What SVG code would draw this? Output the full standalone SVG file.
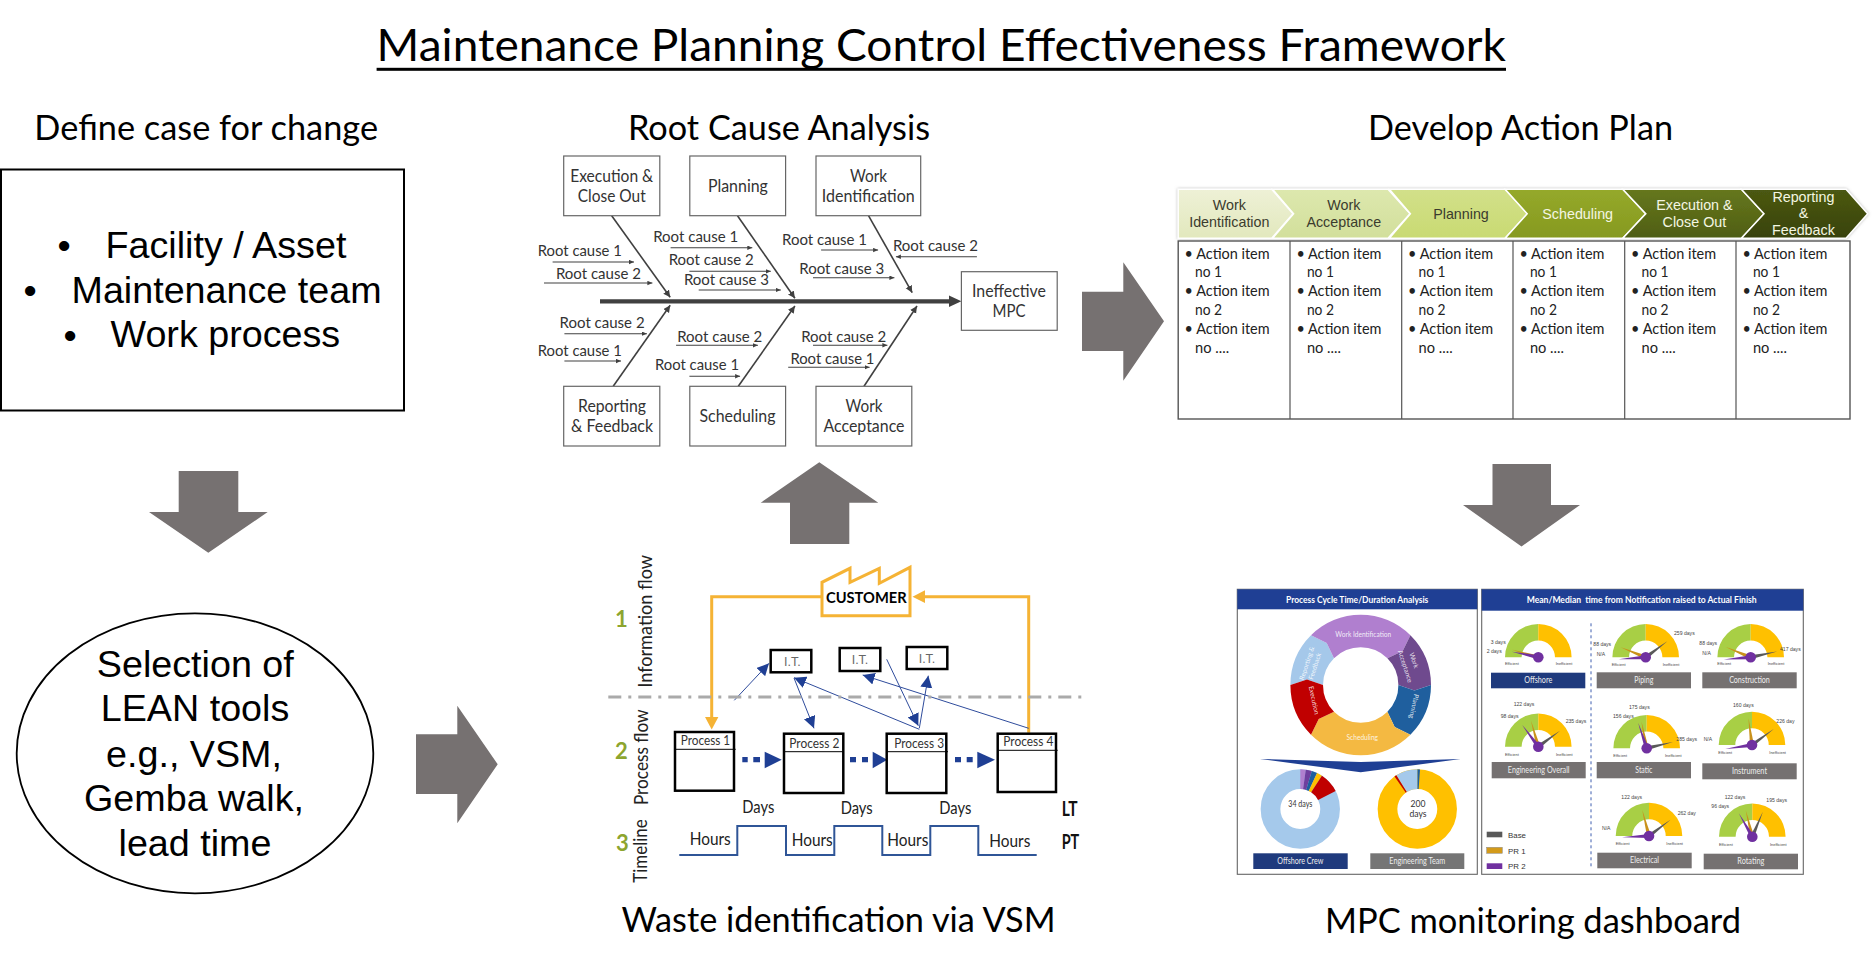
<svg xmlns="http://www.w3.org/2000/svg" width="1875" height="967" viewBox="0 0 1875 967">
<style>
text{font-family:"Lato","Liberation Sans",sans-serif;fill:#111}
.m{text-anchor:middle}
.ar{font-family:"Liberation Sans",Arial,sans-serif}
.big{font-size:37.7px;fill:#000}
.h{font-size:35px;fill:#000}
.b{fill:#fff;stroke:#666;stroke-width:1.2}
.bl{font-size:17.5px;fill:#333}
.rc{font-size:15px;fill:#333}
.bone{stroke:#404040;stroke-width:1.6;fill:none;marker-end:url(#ah)}
.tw{stroke:#404040;stroke-width:1.1;fill:none;marker-end:url(#as)}
.arrow{fill:#767171}
.step{font-family:"Liberation Sans",Arial,sans-serif;font-size:14.3px;text-anchor:middle}
.act{font-size:15px;fill:#222}
.bx{fill:#fff;stroke:#000;stroke-width:2.5}
.pt{font-size:13.5px;fill:#333}
.it{font-family:"Liberation Sans",Arial,sans-serif;font-size:12.5px;fill:#666;text-anchor:middle}
.blue{stroke:#2f4c9c;stroke-width:1;fill:none;marker-end:url(#ab)}
.or{stroke:#f5b335;stroke-width:3;fill:none}
.orf{fill:#f5b335}
.sq{stroke:#1f3f94;stroke-width:5.3;fill:none}
.bf{fill:#1f3f94}
.tm{font-size:18px;fill:#222}
.rot{font-size:19px;fill:#222}
.num{font-size:22px;font-weight:700;fill:#8da52f}
.bd{font-size:20px;font-weight:700;fill:#111}
.pan{fill:#fff;stroke:#666;stroke-width:1.1}
.ht{font-size:9.5px;font-weight:700;fill:#fff}
.w{font-size:6.6px;fill:#fff;text-anchor:middle;fill-opacity:.85}
.s{font-family:"Liberation Sans",Arial,sans-serif;font-size:5.1px;fill:#444}
.e{font-family:"Liberation Sans",Arial,sans-serif;font-size:3.9px;fill:#444}
.ban{font-size:8.6px;fill:#eee;text-anchor:middle}
.ring{fill:none;stroke-width:19.7}
.leg{font-family:"Liberation Sans",Arial,sans-serif;font-size:7.9px;fill:#333}
</style>
<defs>
<marker id="ah" markerUnits="userSpaceOnUse" markerWidth="8" markerHeight="8" refX="7" refY="3.5" orient="auto"><path d="M0 0L7 3.5L0 7Z" fill="#404040"/></marker>
<marker id="as" markerUnits="userSpaceOnUse" markerWidth="6" markerHeight="6" refX="5" refY="2.2" orient="auto"><path d="M0 0L5 2.2L0 4.4Z" fill="#404040"/></marker>
<marker id="ab" markerUnits="userSpaceOnUse" markerWidth="13" markerHeight="13" refX="12" refY="6" orient="auto"><path d="M0 0L12 6L0 12Z" fill="#1f3f94"/></marker>
<linearGradient id="g1" x1="0" y1="0" x2="0" y2="1"><stop offset="0" stop-color="#eef1d6"/><stop offset="1" stop-color="#e2e8bd"/></linearGradient>
<linearGradient id="g2" x1="0" y1="0" x2="0" y2="1"><stop offset="0" stop-color="#dde8ae"/><stop offset="1" stop-color="#d2df9b"/></linearGradient>
<linearGradient id="g3" x1="0" y1="0" x2="0" y2="1"><stop offset="0" stop-color="#d2e08a"/><stop offset="1" stop-color="#c9da72"/></linearGradient>
<linearGradient id="g4" x1="0" y1="0" x2="0" y2="1"><stop offset="0" stop-color="#95a92b"/><stop offset="1" stop-color="#86991f"/></linearGradient>
<linearGradient id="g5" x1="0" y1="0" x2="0" y2="1"><stop offset="0" stop-color="#66771d"/><stop offset="1" stop-color="#4f5e14"/></linearGradient>
<linearGradient id="g6" x1="0" y1="0" x2="0" y2="1"><stop offset="0" stop-color="#4c5912"/><stop offset="1" stop-color="#38420b"/></linearGradient>
<filter id="sh" x="-5%" y="-20%" width="110%" height="140%"><feDropShadow dx="0" dy="0" stdDeviation="1.5" flood-color="#888" flood-opacity=".6"/></filter>
<g id="gauge">
<path d="M-33.3 0A33.3 33.3 0 0 1 0 -33.3L0 -16.7A16.7 16.7 0 0 0 -16.7 0Z" fill="#a8cf45"/>
<path d="M33.3 0A33.3 33.3 0 0 0 0 -33.3L0 -16.7A16.7 16.7 0 0 1 16.7 0Z" fill="#ffc000"/>
</g>
<polygon id="n" points="0,-2 27,0 0,2"/>
</defs>
<rect width="1875" height="967" fill="#fff"/>

<g id="title">
<text x="941.3" y="61" class="m" font-size="45" style="fill:#000" textLength="1129.4" lengthAdjust="spacingAndGlyphs">Maintenance Planning Control Effectiveness Framework</text>
<rect x="376.6" y="67.8" width="1129.4" height="3" fill="#000"/>
</g>

<g id="headings">
<text x="206.2" y="140" class="m h" textLength="343.7" lengthAdjust="spacingAndGlyphs">Define case for change</text>
<text x="779" y="140" class="m h" textLength="302" lengthAdjust="spacingAndGlyphs">Root Cause Analysis</text>
<text x="1520.5" y="140" class="m h" textLength="305" lengthAdjust="spacingAndGlyphs">Develop Action Plan</text>
<text x="838.5" y="931.7" class="m h" textLength="434" lengthAdjust="spacingAndGlyphs">Waste identification via VSM</text>
<text x="1533" y="932.7" class="m h" textLength="416" lengthAdjust="spacingAndGlyphs">MPC monitoring dashboard</text>
</g>

<g id="case-for-change">
<rect x="1" y="169.5" width="403" height="241" fill="#fff" stroke="#000" stroke-width="2"/>
<text x="57.5" y="258" class="ar big">•</text><text x="105.5" y="257.7" class="ar big">Facility / Asset</text>
<text x="23.5" y="303" class="ar big">•</text><text x="71.5" y="302.7" class="ar big">Maintenance team</text>
<text x="63.5" y="348" class="ar big">•</text><text x="110.5" y="347.3" class="ar big">Work process</text>
</g>

<g id="lean-tools">
<ellipse cx="195" cy="753.3" rx="178.3" ry="140" fill="#fff" stroke="#000" stroke-width="1.8"/>
<text x="195.3" y="676.7" class="ar big m">Selection of</text>
<text x="195" y="721" class="ar big m">LEAN tools</text>
<text x="194" y="766.7" class="ar big m">e.g., VSM,</text>
<text x="194" y="810.7" class="ar big m">Gemba walk,</text>
<text x="195" y="855.7" class="ar big m">lead time</text>
</g>

<g id="connectors">
<polygon class="arrow" points="178.7,471 238.3,471 238.3,512 267.7,512 208.3,552.7 149,512 178.7,512"/>
<polygon class="arrow" points="416,734.3 457.3,734.3 457.3,705.7 497.7,764.3 457.3,823.3 457.3,794 416,794"/>
<polygon class="arrow" points="790,544 790,502.7 760.7,502.7 819.3,462.3 878.3,502.7 849.3,502.7 849.3,544"/>
<polygon class="arrow" points="1082,291.7 1123.3,291.7 1123.3,262.3 1164,321.3 1123.3,380.7 1123.3,351 1082,351"/>
<polygon class="arrow" points="1492.5,464 1551,464 1551,505 1580,505 1521.5,546.5 1463,505 1492.5,505"/>

<path d="M600 301.3H950" stroke="#404040" stroke-width="4.2" fill="none"/>
<polygon points="949,295.5 961.4,301.3 949,307" fill="#404040"/>
<line class="bone" x1="611.7" y1="215.7" x2="670.2" y2="297.3"/>
<line class="bone" x1="737.5" y1="215.7" x2="794.9" y2="298.3"/>
<line class="bone" x1="868.5" y1="215.7" x2="912.2" y2="292.7"/>
<line class="bone" x1="613.2" y1="386.3" x2="670.2" y2="305.3"/>
<line class="bone" x1="738.3" y1="386.3" x2="794.9" y2="306"/>
<line class="bone" x1="864" y1="386.3" x2="917" y2="306"/>
<line class="tw" x1="552.6" y1="262" x2="634" y2="262"/>
<line class="tw" x1="544" y1="283" x2="652.4" y2="283"/>
<line class="tw" x1="670.6" y1="247.7" x2="752.3" y2="247.7"/>
<line class="tw" x1="689.4" y1="271.3" x2="770.8" y2="271.3"/>
<line class="tw" x1="698.7" y1="290" x2="780.8" y2="290"/>
<line class="tw" x1="821.1" y1="250" x2="878.1" y2="250"/>
<line class="tw" x1="813" y1="277.7" x2="894.4" y2="277.7"/>
<line class="tw" x1="976.9" y1="256.7" x2="895.9" y2="256.7"/>
<line class="tw" x1="564.4" y1="333.7" x2="646.9" y2="333.7"/>
<line class="tw" x1="564.4" y1="361" x2="621" y2="361"/>
<line class="tw" x1="676.1" y1="345.3" x2="757.9" y2="345.3"/>
<line class="tw" x1="689.4" y1="376.3" x2="740.1" y2="376.3"/>
<line class="tw" x1="813" y1="345.3" x2="887.4" y2="345.3"/>
<line class="tw" x1="788.2" y1="367.3" x2="869.6" y2="367.3"/>

<path class="or" d="M822 596.7H711.7V720"/>
<polygon class="orf" points="705,717 718.4,717 711.7,729.5"/>
<path class="or" d="M1028.7 732.7V596.7H925"/>
<polygon class="orf" points="925,590.3 925,603.1 912.5,596.7"/>
<line class="blue" x1="734.3" y1="700.3" x2="769" y2="663.3"/>
<line class="blue" x1="919.3" y1="729.3" x2="794" y2="677.7"/>
<line class="blue" x1="794" y1="678" x2="814" y2="728.3"/>
<line class="blue" x1="886.7" y1="659.3" x2="918.3" y2="725.7"/>
<line class="blue" x1="919.3" y1="728.3" x2="928.3" y2="675.7"/>
<line class="blue" x1="1028.7" y1="728.3" x2="862.7" y2="675"/>
<path class="sq" d="M742.3 759.7h5.4M753.3 759.7h6.7"/>
<polygon class="bf" points="764.7,751.7 781.7,759.7 764.7,768.3"/>
<path class="sq" d="M850 759.7h6M862 759.7h6"/>
<polygon class="bf" points="872.7,751.7 887.3,759.7 872.7,768.3"/>
<path class="sq" d="M955 759.7h6M966.7 759.7h6"/>
<polygon class="bf" points="977.3,751.7 995,759.7 977.3,768.3"/>
</g>

<g id="fishbone">
<g id="rca-execution"><rect class="b" x="563.7" y="156" width="96.1" height="59.7"/><text x="611.7" y="181.7" class="m bl" textLength="83" lengthAdjust="spacingAndGlyphs">Execution &amp;</text><text x="611.7" y="202.3" class="m bl" textLength="68" lengthAdjust="spacingAndGlyphs">Close Out</text></g>
<g id="rca-planning"><rect class="b" x="689.8" y="156" width="95.8" height="59.7"/><text x="737.9" y="192.3" class="m bl" textLength="60" lengthAdjust="spacingAndGlyphs">Planning</text></g>
<g id="rca-work-id"><rect class="b" x="816" y="156" width="104.7" height="59.7"/><text x="868.5" y="181.7" class="m bl" textLength="37" lengthAdjust="spacingAndGlyphs">Work</text><text x="868.2" y="202.3" class="m bl" textLength="93" lengthAdjust="spacingAndGlyphs">Identification</text></g>
<g id="rca-reporting"><rect class="b" x="563.7" y="386.3" width="96.1" height="59.7"/><text x="612" y="412" class="m bl" textLength="68" lengthAdjust="spacingAndGlyphs">Reporting</text><text x="612" y="432.3" class="m bl" textLength="82" lengthAdjust="spacingAndGlyphs">&amp; Feedback</text></g>
<g id="rca-scheduling"><rect class="b" x="689.8" y="386.3" width="95.8" height="59.7"/><text x="737.5" y="422.3" class="m bl" textLength="76" lengthAdjust="spacingAndGlyphs">Scheduling</text></g>
<g id="rca-work-acc"><rect class="b" x="816" y="386.3" width="95.8" height="59.7"/><text x="864" y="412" class="m bl" textLength="37" lengthAdjust="spacingAndGlyphs">Work</text><text x="864" y="432.3" class="m bl" textLength="81" lengthAdjust="spacingAndGlyphs">Acceptance</text></g>
<g id="rca-effect"><rect class="b" x="961.4" y="271.7" width="95.8" height="58.6"/><text x="1009" y="296.7" class="m bl" textLength="74" lengthAdjust="spacingAndGlyphs">Ineffective</text><text x="1009" y="317.3" class="m bl" textLength="33" lengthAdjust="spacingAndGlyphs">MPC</text></g>
<g id="rca-causes">
<text x="537.8" y="256" class="rc" textLength="84" lengthAdjust="spacingAndGlyphs">Root cause 1</text>
<text x="555.9" y="278.7" class="rc" textLength="85" lengthAdjust="spacingAndGlyphs">Root cause 2</text>
<text x="653.2" y="242.3" class="rc" textLength="85" lengthAdjust="spacingAndGlyphs">Root cause 1</text>
<text x="668.7" y="265.3" class="rc" textLength="85" lengthAdjust="spacingAndGlyphs">Root cause 2</text>
<text x="683.9" y="285" class="rc" textLength="85" lengthAdjust="spacingAndGlyphs">Root cause 3</text>
<text x="782" y="245" class="rc" textLength="85" lengthAdjust="spacingAndGlyphs">Root cause 1</text>
<text x="799.3" y="274.3" class="rc" textLength="85" lengthAdjust="spacingAndGlyphs">Root cause 3</text>
<text x="892.9" y="251" class="rc" textLength="85" lengthAdjust="spacingAndGlyphs">Root cause 2</text>
<text x="559.6" y="328" class="rc" textLength="85" lengthAdjust="spacingAndGlyphs">Root cause 2</text>
<text x="537.8" y="356" class="rc" textLength="84" lengthAdjust="spacingAndGlyphs">Root cause 1</text>
<text x="677.2" y="342" class="rc" textLength="85" lengthAdjust="spacingAndGlyphs">Root cause 2</text>
<text x="655" y="369.7" class="rc" textLength="84" lengthAdjust="spacingAndGlyphs">Root cause 1</text>
<text x="801.2" y="342" class="rc" textLength="85" lengthAdjust="spacingAndGlyphs">Root cause 2</text>
<text x="790.4" y="363.7" class="rc" textLength="84" lengthAdjust="spacingAndGlyphs">Root cause 1</text>
</g>
</g>

<g id="action-plan">
<g id="chevrons" filter="url(#sh)" stroke="#fff" stroke-width="1.5">
<path id="chev1" fill="url(#g1)" d="M1178.2 189.3H1271.7L1293 213.8L1271.7 238.3H1178.2Z"/>
<path id="chev2" fill="url(#g2)" d="M1272.6 189.3H1388L1410 213.8L1388 238.3H1272.6L1293.6 213.8Z"/>
<path id="chev3" fill="url(#g3)" d="M1389.4 189.3H1505L1527.5 213.8L1505 238.3H1389.4L1410.4 213.8Z"/>
<path id="chev4" fill="url(#g4)" d="M1505.2 189.3H1622.8L1645.6 213.8L1622.8 238.3H1505.2L1527.2 213.8Z"/>
<path id="chev5" fill="url(#g5)" d="M1622.8 189.3H1741.4L1764 213.8L1741.4 238.3H1622.8L1645.8 213.8Z"/>
<path id="chev6" fill="url(#g6)" d="M1741.4 189.3H1846L1867.7 213.8L1846 238.3H1741.4L1764 213.8Z"/>
</g>
<text class="step" style="fill:#3b3b2e" x="1229.3" y="210">Work</text><text class="step" style="fill:#3b3b2e" x="1229.3" y="227.3">Identification</text>
<text class="step" style="fill:#3b3b2e" x="1343.8" y="210">Work</text><text class="step" style="fill:#3b3b2e" x="1343.8" y="227.3">Acceptance</text>
<text class="step" style="fill:#3b3b2e" x="1461" y="219">Planning</text>
<text class="step" style="fill:#f4f6e2" x="1577.7" y="219">Scheduling</text>
<text class="step" style="fill:#f4f6e2" x="1694.4" y="210">Execution &amp;</text><text class="step" style="fill:#f4f6e2" x="1694.4" y="227.3">Close Out</text>
<text class="step" style="fill:#f4f6e2" x="1803.4" y="202.3">Reporting</text><text class="step" style="fill:#f4f6e2" x="1803.4" y="218.3">&amp;</text><text class="step" style="fill:#f4f6e2" x="1803.4" y="235">Feedback</text>
<g id="action-table">
<rect x="1178.2" y="241" width="671.8" height="178" fill="#fff" stroke="#555" stroke-width="1.4"/>
<path d="M1290 241V419M1401.7 241V419M1513 241V419M1624.7 241V419M1736 241V419" stroke="#555" stroke-width="1.2" fill="none"/>
<g>
<text class="act" x="1184.6" y="258.5" textLength="85" lengthAdjust="spacingAndGlyphs">• Action item</text><text class="act" x="1195.1" y="277.3" textLength="27" lengthAdjust="spacingAndGlyphs">no 1</text><text class="act" x="1184.6" y="296.3" textLength="85" lengthAdjust="spacingAndGlyphs">• Action item</text><text class="act" x="1195.1" y="315" textLength="27" lengthAdjust="spacingAndGlyphs">no 2</text><text class="act" x="1184.6" y="334" textLength="85" lengthAdjust="spacingAndGlyphs">• Action item</text><text class="act" x="1195.1" y="353" textLength="34" lengthAdjust="spacingAndGlyphs">no ....</text>
<text class="act" x="1296.4" y="258.5" textLength="85" lengthAdjust="spacingAndGlyphs">• Action item</text><text class="act" x="1306.9" y="277.3" textLength="27" lengthAdjust="spacingAndGlyphs">no 1</text><text class="act" x="1296.4" y="296.3" textLength="85" lengthAdjust="spacingAndGlyphs">• Action item</text><text class="act" x="1306.9" y="315" textLength="27" lengthAdjust="spacingAndGlyphs">no 2</text><text class="act" x="1296.4" y="334" textLength="85" lengthAdjust="spacingAndGlyphs">• Action item</text><text class="act" x="1306.9" y="353" textLength="34" lengthAdjust="spacingAndGlyphs">no ....</text>
<text class="act" x="1408.1" y="258.5" textLength="85" lengthAdjust="spacingAndGlyphs">• Action item</text><text class="act" x="1418.6" y="277.3" textLength="27" lengthAdjust="spacingAndGlyphs">no 1</text><text class="act" x="1408.1" y="296.3" textLength="85" lengthAdjust="spacingAndGlyphs">• Action item</text><text class="act" x="1418.6" y="315" textLength="27" lengthAdjust="spacingAndGlyphs">no 2</text><text class="act" x="1408.1" y="334" textLength="85" lengthAdjust="spacingAndGlyphs">• Action item</text><text class="act" x="1418.6" y="353" textLength="34" lengthAdjust="spacingAndGlyphs">no ....</text>
<text class="act" x="1519.4" y="258.5" textLength="85" lengthAdjust="spacingAndGlyphs">• Action item</text><text class="act" x="1529.9" y="277.3" textLength="27" lengthAdjust="spacingAndGlyphs">no 1</text><text class="act" x="1519.4" y="296.3" textLength="85" lengthAdjust="spacingAndGlyphs">• Action item</text><text class="act" x="1529.9" y="315" textLength="27" lengthAdjust="spacingAndGlyphs">no 2</text><text class="act" x="1519.4" y="334" textLength="85" lengthAdjust="spacingAndGlyphs">• Action item</text><text class="act" x="1529.9" y="353" textLength="34" lengthAdjust="spacingAndGlyphs">no ....</text>
<text class="act" x="1631.1" y="258.5" textLength="85" lengthAdjust="spacingAndGlyphs">• Action item</text><text class="act" x="1641.6" y="277.3" textLength="27" lengthAdjust="spacingAndGlyphs">no 1</text><text class="act" x="1631.1" y="296.3" textLength="85" lengthAdjust="spacingAndGlyphs">• Action item</text><text class="act" x="1641.6" y="315" textLength="27" lengthAdjust="spacingAndGlyphs">no 2</text><text class="act" x="1631.1" y="334" textLength="85" lengthAdjust="spacingAndGlyphs">• Action item</text><text class="act" x="1641.6" y="353" textLength="34" lengthAdjust="spacingAndGlyphs">no ....</text>
<text class="act" x="1742.4" y="258.5" textLength="85" lengthAdjust="spacingAndGlyphs">• Action item</text><text class="act" x="1752.9" y="277.3" textLength="27" lengthAdjust="spacingAndGlyphs">no 1</text><text class="act" x="1742.4" y="296.3" textLength="85" lengthAdjust="spacingAndGlyphs">• Action item</text><text class="act" x="1752.9" y="315" textLength="27" lengthAdjust="spacingAndGlyphs">no 2</text><text class="act" x="1742.4" y="334" textLength="85" lengthAdjust="spacingAndGlyphs">• Action item</text><text class="act" x="1752.9" y="353" textLength="34" lengthAdjust="spacingAndGlyphs">no ....</text>
</g>
</g>
</g>

<g id="vsm">
<line x1="608.3" y1="697" x2="1083.3" y2="697" stroke="#aaa" stroke-width="3" stroke-dasharray="13 7 3 7"/>
<text class="m rot" transform="rotate(-90 651.7 621.3)" x="651.7" y="621.3" textLength="132.7" lengthAdjust="spacingAndGlyphs">Information flow</text>
<text class="m rot" transform="rotate(-90 648.3 757.2)" x="648.3" y="757.2" textLength="95.7" lengthAdjust="spacingAndGlyphs">Process flow</text>
<text class="m rot" transform="rotate(-90 647.3 851)" x="647.3" y="851" textLength="63.3" lengthAdjust="spacingAndGlyphs">Timeline</text>
<text class="m num" x="621.3" y="627.3">1</text>
<text class="m num" x="621.3" y="759.3">2</text>
<text class="m num" x="622.3" y="850.7">3</text>
<g id="customer">
<polygon points="822,615.7 822,582.3 850,568.3 850,582.3 879.3,568.3 879.3,583.3 910,567.3 910,615.7" fill="#fff" stroke="#f5b335" stroke-width="3"/>
<text x="866.3" y="602.7" class="m" font-weight="700" font-size="16" style="fill:#000" textLength="80.7" lengthAdjust="spacingAndGlyphs">CUSTOMER</text>
</g>
<g id="it1"><rect class="bx" x="770.7" y="650" width="40.6" height="22.3"/><text class="it" x="792.3" y="666.3">I.T.</text></g>
<g id="it2"><rect class="bx" x="839.7" y="648" width="40.6" height="23"/><text class="it" x="860" y="664.3">I.T.</text></g>
<g id="it3"><rect class="bx" x="906.7" y="647" width="40.6" height="22"/><text class="it" x="927" y="663.3">I.T.</text></g>
<g id="process1"><rect class="bx" x="675" y="732" width="59" height="58.7"/><path d="M675 749.3H735.7" stroke="#000" stroke-width="1"/><text class="pt" x="680.7" y="745" textLength="49.5" lengthAdjust="spacingAndGlyphs">Process 1</text></g>
<g id="process2"><rect class="bx" x="784" y="733.7" width="59.3" height="59.3"/><path d="M784 751.7H843.3" stroke="#000" stroke-width="1"/><text class="pt" x="789.3" y="747.7" textLength="50" lengthAdjust="spacingAndGlyphs">Process 2</text></g>
<g id="process3"><rect class="bx" x="886.7" y="733.7" width="59.6" height="59.3"/><path d="M886.7 751.7H948" stroke="#000" stroke-width="1"/><text class="pt" x="894.3" y="747.7" textLength="49.7" lengthAdjust="spacingAndGlyphs">Process 3</text></g>
<g id="process4"><rect class="bx" x="997.7" y="733.7" width="58.3" height="58.3"/><path d="M997.7 750.3H1057.7" stroke="#000" stroke-width="1"/><text class="pt" x="1003.3" y="746" textLength="50" lengthAdjust="spacingAndGlyphs">Process 4</text></g>
<text class="tm" x="742.3" y="812.7" textLength="32" lengthAdjust="spacingAndGlyphs">Days</text>
<text class="tm" x="840.7" y="813.7" textLength="32" lengthAdjust="spacingAndGlyphs">Days</text>
<text class="tm" x="939.3" y="813.7" textLength="32" lengthAdjust="spacingAndGlyphs">Days</text>
<text class="bd" x="1061.7" y="815.7" textLength="16" lengthAdjust="spacingAndGlyphs">LT</text>
<text class="bd" x="1061.7" y="848.7" textLength="17.6" lengthAdjust="spacingAndGlyphs">PT</text>
<polyline id="timeline" points="679.3,855 737.3,855 737.3,826 786,826 786,855 834.3,855 834.3,826 882.3,826 882.3,855 930.3,855 930.3,826 978.3,826 978.3,855 1036.7,855" fill="none" stroke="#2f5597" stroke-width="2"/>
<text class="tm" x="689.7" y="844.7" textLength="41" lengthAdjust="spacingAndGlyphs">Hours</text>
<text class="tm" x="791.7" y="845.7" textLength="41" lengthAdjust="spacingAndGlyphs">Hours</text>
<text class="tm" x="887.3" y="845.7" textLength="41" lengthAdjust="spacingAndGlyphs">Hours</text>
<text class="tm" x="989.3" y="846.7" textLength="41" lengthAdjust="spacingAndGlyphs">Hours</text>
</g>

<g id="dashboard-cycle">
<rect class="pan" x="1237.3" y="589.3" width="240" height="285"/>
<rect x="1237.3" y="589.3" width="240" height="20" fill="#1f3f94"/>
<text class="ht m" x="1357.2" y="602.7" textLength="142.3" lengthAdjust="spacingAndGlyphs">Process Cycle Time/Duration Analysis</text>
<path fill="#a5c8ea" d="M1290.4 685A70.3 70.3 0 0 1 1311 635.3L1326.7 643L1334 658.3A37.7 37.7 0 0 0 1323 685L1307 679.4Z"/>
<path fill="#b07fcf" d="M1311 635.3A70.3 70.3 0 0 1 1410.4 635.3L1402.7 651L1387.4 658.3A37.7 37.7 0 0 0 1334 658.3L1326.7 643Z"/>
<path fill="#6f4a8e" d="M1410.4 635.3A70.3 70.3 0 0 1 1431 685L1414.4 690.6L1398.4 685A37.7 37.7 0 0 0 1387.4 658.3L1402.7 651Z"/>
<path fill="#1f5f9e" d="M1431 685A70.3 70.3 0 0 1 1410.4 734.7L1394.7 727L1387.4 711.7A37.7 37.7 0 0 0 1398.4 685L1414.4 690.6Z"/>
<path fill="#f4b942" d="M1410.4 734.7A70.3 70.3 0 0 1 1311 734.7L1318.7 719L1334 711.7A37.7 37.7 0 0 0 1387.4 711.7L1394.7 727Z"/>
<path fill="#c00000" d="M1311 734.7A70.3 70.3 0 0 1 1290.4 685L1307 679.4L1323 685A37.7 37.7 0 0 0 1334 711.7L1318.7 719Z"/>
<text class="w" x="1363.3" y="636.5">Work Identification</text>
<text class="w" x="1362.3" y="739.5">Scheduling</text>
<text class="w" transform="rotate(72 1411.7 661)" x="1411.7" y="661">Work</text>
<text class="w" transform="rotate(72 1403 667)" x="1403" y="667">Acceptance</text>
<text class="w" transform="rotate(102 1411.7 706)" x="1411.7" y="706">Planning</text>
<text class="w" transform="rotate(78 1311.7 700.7)" x="1311.7" y="700.7">Execution</text>
<text class="w" transform="rotate(-72 1309 664)" x="1309" y="664">Reporting &amp;</text>
<text class="w" transform="rotate(-72 1317 667)" x="1317" y="667">Feedback</text>
<polygon class="bf" points="1260,759 1360.7,762 1460.7,759 1360.7,772.3"/>
<g id="donut-offshore" transform="rotate(-90 1300.3 809)">
<circle class="ring" cx="1300.3" cy="809" r="29.8" stroke="#a5c9eb"/>
<circle class="ring" cx="1300.3" cy="809" r="29.8" stroke="#b07fcf" pathLength="360" stroke-dasharray="8 352"/>
<circle class="ring" cx="1300.3" cy="809" r="29.8" stroke="#6f3f9e" pathLength="360" stroke-dasharray="9 351" stroke-dashoffset="-8"/>
<circle class="ring" cx="1300.3" cy="809" r="29.8" stroke="#1f5f9e" pathLength="360" stroke-dasharray="8 352" stroke-dashoffset="-17"/>
<circle class="ring" cx="1300.3" cy="809" r="29.8" stroke="#ffc000" pathLength="360" stroke-dasharray="8 352" stroke-dashoffset="-25"/>
<circle class="ring" cx="1300.3" cy="809" r="29.8" stroke="#c00000" pathLength="360" stroke-dasharray="30 330" stroke-dashoffset="-33"/>
</g>
<g id="donut-engineering" transform="rotate(-90 1417.3 809)">
<circle class="ring" cx="1417.3" cy="809" r="29.8" stroke="#ffc000"/>
<circle class="ring" cx="1417.3" cy="809" r="29.8" stroke="#1f5f9e" pathLength="360" stroke-dasharray="4 356"/>
<circle class="ring" cx="1417.3" cy="809" r="29.8" stroke="#a5c9eb" pathLength="360" stroke-dasharray="32 328" stroke-dashoffset="-328"/>
<circle class="ring" cx="1417.3" cy="809" r="29.8" stroke="#c00000" pathLength="360" stroke-dasharray="3 357" stroke-dashoffset="-325"/>
</g>
<text class="m" x="1300.3" y="807.3" font-size="8.6" style="fill:#333" textLength="24" lengthAdjust="spacingAndGlyphs">34 days</text>
<text class="m" x="1418" y="807.3" font-size="8.6" style="fill:#333">200</text>
<text class="m" x="1418" y="817" font-size="8.6" style="fill:#333">days</text>
<rect x="1253.3" y="853.3" width="94.4" height="15.7" fill="#1f3a7d"/>
<text class="ban" x="1300.3" y="863.7" textLength="46" lengthAdjust="spacingAndGlyphs">Offshore Crew</text>
<rect x="1370.3" y="853.3" width="94" height="15.7" fill="#757575"/>
<text class="ban" x="1417.3" y="863.7" textLength="56" lengthAdjust="spacingAndGlyphs">Engineering Team</text>
</g>

<g id="dashboard-gauges">
<rect class="pan" x="1481.7" y="589.3" width="321.6" height="285"/>
<rect x="1481.7" y="589.3" width="321.6" height="21.4" fill="#1f3f94"/>
<text class="ht m" x="1641.7" y="603.3" xml:space="preserve" textLength="230" lengthAdjust="spacingAndGlyphs">Mean/Median  time from Notification raised to Actual Finish</text>
<line x1="1591" y1="623.3" x2="1591" y2="866.7" stroke="#3f5fb0" stroke-width="1" stroke-dasharray="3 3"/>

<g id="gauge-offshore">
<g transform="translate(1538.3 657.3)"><use href="#gauge"/><use href="#n" transform="rotate(196)" fill="#c9911a"/><use href="#n" transform="rotate(192)" fill="#7030a0"/><circle r="5.3" fill="#7030a0"/></g>
<text class="s" x="1490.7" y="644.3">3 days</text><text class="s" x="1486.7" y="653.3">2 days</text><text class="e" x="1505" y="665.3">Efficient</text><text class="e" x="1555.7" y="665.3">Inefficient</text>
<rect x="1491" y="672.7" width="94.3" height="15.6" fill="#1f3a7d"/><text class="ban" x="1538.2" y="683" textLength="28" lengthAdjust="spacingAndGlyphs">Offshore</text>
</g>
<g id="gauge-piping">
<g transform="translate(1645.7 657.3)"><use href="#gauge"/><use href="#n" transform="rotate(-36.8)" fill="#595959"/><use href="#n" transform="rotate(202)" fill="#c9911a"/><use href="#n" transform="rotate(176)" fill="#7030a0"/><circle r="5.3" fill="#7030a0"/></g>
<text class="s" x="1593.3" y="645.7">88 days</text><text class="s" x="1596.7" y="656">N/A</text><text class="s" x="1674" y="634.7">259 days</text><text class="e" x="1611.7" y="666">Efficient</text><text class="e" x="1662.7" y="666">Inefficient</text>
<rect x="1596.7" y="672.3" width="94.3" height="16" fill="#757171"/><text class="ban" x="1643.8" y="683" textLength="19" lengthAdjust="spacingAndGlyphs">Piping</text>
</g>
<g id="gauge-construction">
<g transform="translate(1750.7 657.3)"><use href="#gauge"/><use href="#n" transform="rotate(-12.4)" fill="#595959"/><use href="#n" transform="rotate(202.6)" fill="#c9911a"/><use href="#n" transform="rotate(175.5)" fill="#7030a0"/><circle r="5.3" fill="#7030a0"/></g>
<text class="s" x="1699.3" y="644.7">88 days</text><text class="s" x="1702.3" y="655.3">N/A</text><text class="s" x="1780" y="651">417 days</text><text class="e" x="1717.3" y="665.3">Efficient</text><text class="e" x="1767.7" y="665.3">Inefficient</text>
<rect x="1702.3" y="672.3" width="94.4" height="16" fill="#757171"/><text class="ban" x="1749.5" y="683" textLength="40.7" lengthAdjust="spacingAndGlyphs">Construction</text>
</g>
<g id="gauge-engineering">
<g transform="translate(1538.3 746.7)"><use href="#gauge"/><use href="#n" transform="rotate(-36.4)" fill="#595959"/><use href="#n" transform="rotate(254.4)" fill="#c9911a"/><use href="#n" transform="rotate(233.6)" fill="#7030a0"/><circle r="5.3" fill="#7030a0"/></g>
<text class="s" x="1513.7" y="706.3">122 days</text><text class="s" x="1500.7" y="718.3">98 days</text><text class="s" x="1565.7" y="723">235 days</text><text class="e" x="1505" y="755.7">Efficient</text><text class="e" x="1556" y="755.7">Inefficient</text>
<rect x="1491.7" y="762" width="94" height="16.3" fill="#757171"/><text class="ban" x="1538.7" y="773" textLength="61.7" lengthAdjust="spacingAndGlyphs">Engineering Overall</text>
</g>
<g id="gauge-static">
<g transform="translate(1646.7 748.3)"><use href="#gauge"/><use href="#n" transform="rotate(-13.5)" fill="#595959"/><use href="#n" transform="rotate(259)" fill="#c9911a"/><use href="#n" transform="rotate(251.6)" fill="#7030a0"/><circle r="5.3" fill="#7030a0"/></g>
<text class="s" x="1629" y="708.7">175 days</text><text class="s" x="1613" y="718.3">156 days</text><text class="s" x="1676.3" y="741">285 days</text><text class="e" x="1613.3" y="757.3">Efficient</text><text class="e" x="1665" y="757.3">Inefficient</text>
<rect x="1596.7" y="762" width="94.3" height="16.3" fill="#757171"/><text class="ban" x="1643.8" y="773" textLength="17" lengthAdjust="spacingAndGlyphs">Static</text>
</g>
<g id="gauge-instrument">
<g transform="translate(1752 745)"><use href="#gauge"/><use href="#n" transform="rotate(-36.4)" fill="#595959"/><use href="#n" transform="rotate(262.5)" fill="#c9911a"/><use href="#n" transform="rotate(171.6)" fill="#7030a0"/><circle r="5.3" fill="#7030a0"/></g>
<text class="s" x="1733" y="707.3">160 days</text><text class="s" x="1703.7" y="741">N/A</text><text class="s" x="1776.3" y="723">226 day</text><text class="e" x="1718.3" y="753.7">Efficient</text><text class="e" x="1769.3" y="753.7">Inefficient</text>
<rect x="1702.3" y="763.3" width="94.4" height="16" fill="#757171"/><text class="ban" x="1749.5" y="774" textLength="35" lengthAdjust="spacingAndGlyphs">Instrument</text>
</g>
<g id="gauge-electrical">
<g transform="translate(1649 836)"><use href="#gauge"/><use href="#n" transform="rotate(-37.3)" fill="#595959"/><use href="#n" transform="rotate(255.4)" fill="#c9911a"/><use href="#n" transform="rotate(177.3)" fill="#7030a0"/><circle r="5.3" fill="#7030a0"/></g>
<text class="s" x="1621.3" y="798.7">122 days</text><text class="s" x="1602" y="830.3">N/A</text><text class="s" x="1677.7" y="815.3">262 day</text><text class="e" x="1615.7" y="844.7">Efficient</text><text class="e" x="1666.3" y="844.7">Inefficient</text>
<rect x="1597.3" y="852.7" width="94.4" height="15.6" fill="#757171"/><text class="ban" x="1644.5" y="863.3" textLength="29" lengthAdjust="spacingAndGlyphs">Electrical</text>
</g>
<g id="gauge-rotating">
<g transform="translate(1752.3 836.7)"><use href="#gauge"/><use href="#n" transform="rotate(-67)" fill="#595959"/><use href="#n" transform="rotate(256)" fill="#c9911a"/><use href="#n" transform="rotate(240)" fill="#7030a0"/><circle r="5.3" fill="#7030a0"/></g>
<text class="s" x="1724.7" y="799">122 days</text><text class="s" x="1711.3" y="807.7">96 days</text><text class="s" x="1766.3" y="802">195 days</text><text class="e" x="1719" y="845.7">Efficient</text><text class="e" x="1770" y="845.7">Inefficient</text>
<rect x="1703.7" y="853.7" width="94.3" height="15.6" fill="#757171"/><text class="ban" x="1750.8" y="864.3" textLength="27" lengthAdjust="spacingAndGlyphs">Rotating</text>
</g>
<g id="legend">
<rect x="1486.7" y="831.7" width="15.6" height="5.6" fill="#595959"/><text class="leg" x="1508" y="838.3">Base</text>
<rect x="1486.7" y="847.3" width="15.6" height="6" fill="#d39a1a" stroke="#888" stroke-width=".5"/><text class="leg" x="1508" y="853.7">PR 1</text>
<rect x="1486.7" y="863.3" width="15.6" height="5.7" fill="#7030a0"/><text class="leg" x="1508" y="869.3">PR 2</text>
</g>
</g>
</svg>
